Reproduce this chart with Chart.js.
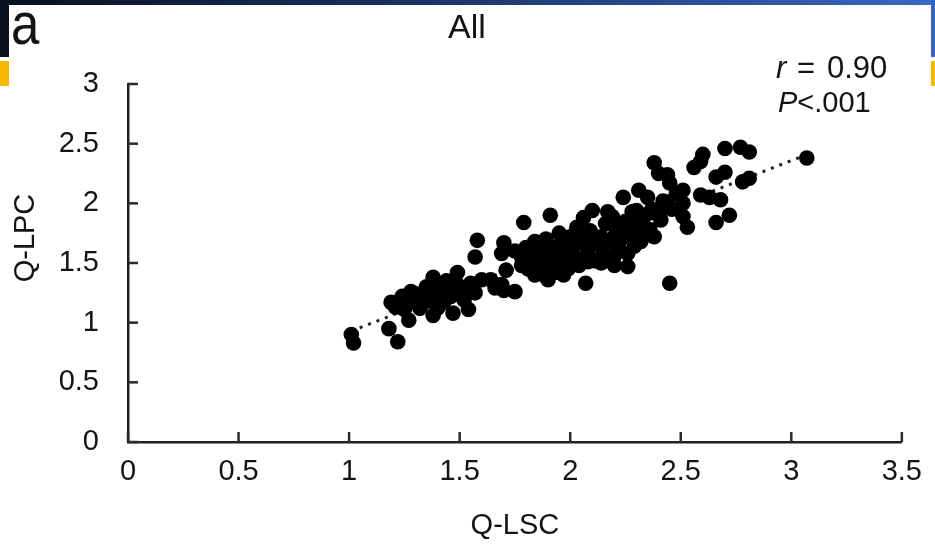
<!DOCTYPE html>
<html>
<head>
<meta charset="utf-8">
<script src="https://cdn.jsdelivr.net/npm/chart.js@4.4.1/dist/chart.umd.min.js"></script>
<style>
  html, body { margin: 0; padding: 0; background: #fff; }
  #wrap { position: relative; width: 935px; height: 545px; overflow: hidden; }
  #topbar { position: absolute; left: 0; top: 0; width: 935px; height: 5px;
            background: linear-gradient(to right, #06101f, #1b3266 45%, #3a68c4); }
  #leftdark { position: absolute; left: 0; top: 0; width: 9px; height: 57px; background: #07111f; }
  #rightblue { position: absolute; left: 931px; top: 0; width: 4px; height: 57px; background: #3565c0; }
  .gold { position: absolute; top: 61px; height: 25px; background: #f7b900; }
  canvas { position: absolute; left: 0; top: 0; }
</style>
</head>
<body>
<div id="wrap">
  <div id="topbar"></div>
  <div id="leftdark"></div>
  <div id="rightblue"></div>
  <div class="gold" style="left:0;width:9px"></div>
  <div class="gold" style="left:931px;width:4px"></div>
  <canvas id="scatterChart" width="935" height="545"></canvas>
</div>
<script>
// Q-LSC (x) vs Q-LPC (y), one entry per subject
const qlsc = [
  1.01, 1.02, 1.18, 1.22, 1.19, 1.21, 1.24, 1.25, 1.27, 1.28,
  1.30, 1.33, 1.34, 1.36, 1.38, 1.39, 1.38, 1.40, 1.42, 1.43,
  1.45, 1.47, 1.49, 1.49, 1.52, 1.54, 1.55, 1.57, 1.60, 1.64,
  1.66, 1.69, 1.70, 1.75, 1.58, 1.57, 1.70, 1.69, 1.71, 1.35,
  1.31, 1.26, 1.44, 1.46, 1.41, 1.32, 1.51, 1.22, 1.37, 1.48,
  1.79, 1.91, 1.75, 1.78, 1.80, 1.82, 1.83, 1.85, 1.86, 1.87,
  1.88, 1.89, 1.90, 1.91, 1.92, 1.93, 1.94, 1.95, 1.96, 1.97,
  1.98, 1.99, 2.00, 2.01, 2.02, 2.03, 2.04, 2.05, 2.06, 2.07,
  2.08, 2.09, 2.10, 2.11, 2.12, 2.14, 2.15, 2.16, 2.18, 2.19,
  2.20, 2.21, 2.22, 2.23, 1.90, 1.84, 1.81, 1.84, 1.88, 1.92,
  1.95, 1.97, 2.00, 1.86, 1.78, 2.17, 2.14, 2.08, 2.02, 2.20,
  2.14, 2.08, 2.02, 2.18, 2.20,
  2.24, 2.25, 2.26, 2.27, 2.28, 2.29, 2.30, 2.31, 2.32, 2.33,
  2.35, 2.36, 2.37, 2.38, 2.40, 2.41, 2.42, 2.44, 2.45, 2.45,
  2.46, 2.48, 2.51, 2.51, 2.51, 2.53, 2.56, 2.59, 2.60, 2.59,
  2.63, 2.68, 2.66, 2.70, 2.66, 2.72, 2.70, 2.77, 2.81, 2.78,
  2.81, 3.07, 2.30, 2.28, 2.36, 2.33, 2.41, 2.44, 2.38, 2.32,
  2.26, 2.24
];
const qlpc = [
  0.90, 0.83, 0.95, 0.84, 1.17, 1.13, 1.22, 1.11, 1.02, 1.26,
  1.18, 1.22, 1.17, 1.25, 1.38, 1.32, 1.06, 1.12, 1.23, 1.18,
  1.27, 1.08, 1.42, 1.32, 1.19, 1.11, 1.33, 1.25, 1.36, 1.36,
  1.29, 1.32, 1.27, 1.26, 1.69, 1.55, 1.67, 1.58, 1.44, 1.30,
  1.24, 1.20, 1.35, 1.22, 1.15, 1.12, 1.28, 1.15, 1.20, 1.30,
  1.84, 1.90, 1.60, 1.55, 1.63, 1.50, 1.58, 1.45, 1.62, 1.53,
  1.40, 1.70, 1.57, 1.48, 1.63, 1.42, 1.55, 1.75, 1.67, 1.50,
  1.60, 1.45, 1.72, 1.55, 1.65, 1.80, 1.48, 1.70, 1.88, 1.33,
  1.60, 1.77, 1.94, 1.52, 1.66, 1.72, 1.58, 1.83, 1.68, 1.89,
  1.56, 1.77, 1.62, 1.70, 1.36, 1.40, 1.45, 1.68, 1.62, 1.52,
  1.60, 1.40, 1.62, 1.50, 1.48, 1.93, 1.50, 1.51, 1.55, 1.72,
  1.69, 1.69, 1.72, 1.84, 1.48,
  2.05, 1.85, 1.47, 1.74, 1.93, 1.64, 1.80, 2.11, 1.70, 1.88,
  2.05, 1.78, 1.95, 2.34, 2.25, 1.86, 2.02, 2.24, 2.17, 1.33,
  1.95, 2.08, 2.11, 2.00, 1.89, 1.80, 2.30, 2.35, 2.41, 2.07,
  2.05, 2.03, 2.22, 2.26, 1.84, 1.90, 2.46, 2.47, 2.43, 2.18,
  2.21, 2.38, 1.94, 1.84, 1.92, 1.80, 1.94, 2.01, 1.72, 1.68,
  1.58, 1.80
];

const xTickLabels = ['0', '0.5', '1', '1.5', '2', '2.5', '3', '3.5'];
const yTickLabels = ['0', '0.5', '1', '1.5', '2', '2.5', '3'];

const points = qlsc.map((x, i) => ({ x: x, y: qlpc[i] }));

// least squares trend line over the data range
const n = qlsc.length;
const mx = qlsc.reduce((a, b) => a + b, 0) / n;
const my = qlpc.reduce((a, b) => a + b, 0) / n;
let sxy = 0, sxx = 0;
for (let i = 0; i < n; i++) {
  sxy += (qlsc[i] - mx) * (qlpc[i] - my);
  sxx += (qlsc[i] - mx) * (qlsc[i] - mx);
}
const slope = sxy / sxx;
const icpt = my - slope * mx;
const xMin = Math.min(...qlsc);
const xMax = Math.max(...qlsc);
const trend = [
  { x: xMin, y: icpt + slope * xMin },
  { x: xMax, y: icpt + slope * xMax }
];

const FONT = '"Liberation Sans", Arial, sans-serif';
const INK = '#141414';

// inward tick marks on both axes
const innerTicks = {
  id: 'innerTicks',
  afterDraw(chart) {
    const { ctx, chartArea, scales } = chart;
    ctx.save();
    ctx.strokeStyle = '#2a2a2a';
    ctx.lineWidth = 2.5;
    scales.x.ticks.forEach(t => {
      const px = scales.x.getPixelForValue(t.value);
      ctx.beginPath();
      ctx.moveTo(px, chartArea.bottom);
      ctx.lineTo(px, chartArea.bottom - 10);
      ctx.stroke();
    });
    scales.y.ticks.forEach(t => {
      const py = scales.y.getPixelForValue(t.value);
      ctx.beginPath();
      ctx.moveTo(chartArea.left, py);
      ctx.lineTo(chartArea.left + 10, py);
      ctx.stroke();
    });
    ctx.restore();
  }
};

// panel letter, title, stats and axis titles
const labels = {
  id: 'labels',
  afterDraw(chart) {
    const { ctx, chartArea } = chart;
    ctx.save();
    ctx.fillStyle = INK;
    ctx.textBaseline = 'alphabetic';

    ctx.save();
    ctx.translate(11, 44);
    ctx.scale(0.85, 1);
    ctx.font = '60px ' + FONT;
    ctx.textAlign = 'left';
    ctx.fillText('a', 0, 0);
    ctx.restore();

    ctx.font = '34px ' + FONT;
    ctx.textAlign = 'center';
    ctx.fillText('All', 467, 38);

    ctx.textAlign = 'left';
    ctx.font = 'italic 31px ' + FONT;
    ctx.fillText('r', 776, 78);
    ctx.font = '31px ' + FONT;
    ctx.fillText('=', 797, 78);
    ctx.fillText('0.90', 827, 78);
    ctx.font = 'italic 29px ' + FONT;
    ctx.fillText('P', 778, 112);
    const pw = ctx.measureText('P').width;
    ctx.font = '29px ' + FONT;
    ctx.fillText('<.001', 778 + pw, 112);

    ctx.font = '29px ' + FONT;
    ctx.textAlign = 'center';
    ctx.fillText('Q-LSC', (chartArea.left + chartArea.right) / 2, 534);

    ctx.save();
    ctx.translate(34, 238);
    ctx.rotate(-Math.PI / 2);
    ctx.fillText('Q-LPC', 0, 0);
    ctx.restore();

    ctx.restore();
  }
};

new Chart(document.getElementById('scatterChart').getContext('2d'), {
  type: 'scatter',
  data: {
    datasets: [{
      label: 'Subjects',
      data: points,
      backgroundColor: '#000',
      borderColor: '#000',
      pointRadius: 7.8,
      pointHoverRadius: 7.8,
      borderWidth: 0
    }, {
      type: 'line',
      label: 'Trend',
      data: trend,
      borderColor: '#222',
      borderWidth: 3,
      borderDash: [3, 6],
      pointRadius: 0,
      fill: false
    }]
  },
  options: {
    responsive: false,
    animation: false,
    layout: { padding: { top: 84, right: 29, left: 0, bottom: 0 } },
    plugins: {
      legend: { display: false },
      tooltip: { enabled: false }
    },
    scales: {
      x: {
        type: 'linear',
        min: 0,
        max: 3.5,
        afterFit: s => { s.height = 103; },
        ticks: {
          stepSize: 0.5,
          padding: 13,
          color: INK,
          font: { family: FONT, size: 29 },
          maxRotation: 0,
          callback: (v, i) => xTickLabels[i]
        },
        grid: { display: true, drawOnChartArea: false, drawTicks: false },
        border: { display: true, color: '#222', width: 2.5 }
      },
      y: {
        type: 'linear',
        min: 0,
        max: 3,
        afterFit: s => { s.width = 128; },
        ticks: {
          stepSize: 0.5,
          padding: 29,
          color: INK,
          font: { family: FONT, size: 29 },
          callback: (v, i) => yTickLabels[i]
        },
        grid: { display: true, drawOnChartArea: false, drawTicks: false },
        border: { display: true, color: '#222', width: 2.5 }
      }
    }
  },
  plugins: [innerTicks, labels]
});
</script>
</body>
</html>
